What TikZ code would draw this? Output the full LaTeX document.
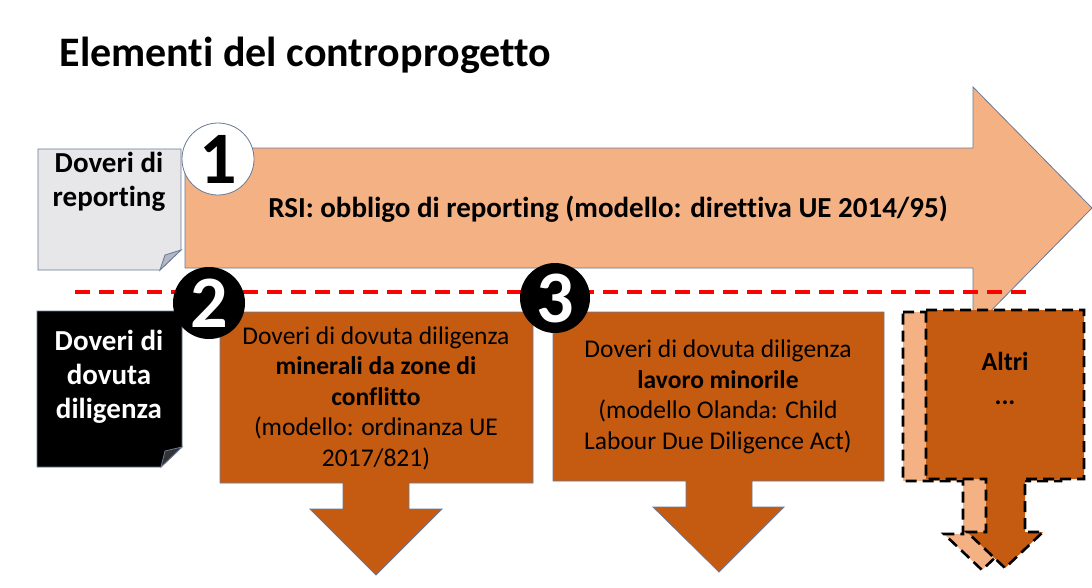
\documentclass[tikz,border=0pt]{standalone}
\usepackage{fontspec}
\setmainfont{Carlito}[Ligatures=NoCommon]
\definecolor{peach}{HTML}{F4B183}
\definecolor{rust}{HTML}{C55A11}
\definecolor{notegrey}{HTML}{E7E6E8}
\definecolor{foldgrey}{HTML}{B4B8C6}
\definecolor{edge}{HTML}{6A7A96}
\definecolor{dashred}{HTML}{FF0000}
\tikzset{
  outl/.style={draw=edge, line width=0.8pt},
  numcirc/.style={circle, minimum size=72pt, inner sep=0pt, font=\bfseries\fontsize{74}{74}\selectfont},
  boxtext/.style={align=center, font=\fontsize{25.5}{30.5}\selectfont, text=black},
  notetext/.style={align=center, font=\bfseries\fontsize{29}{34}\selectfont},
  altridash/.style={draw=black, line width=2.6pt, dash pattern=on 11pt off 6pt},
}
\begin{document}
\begin{tikzpicture}[x=1pt,y=-1pt]
\useasboundingbox (0,0) rectangle (1092,587);
% title
\node[anchor=west, font=\bfseries\fontsize{42}{42}\selectfont] (title) at (56,55) {Elementi del controprogetto};
% big arrow
\filldraw[fill=peach, outl] (185,148) -- (973,148) -- (973,87) -- (1092,208) -- (973,329) -- (973,268) -- (185,268) -- cycle;
\node[font=\bfseries\fontsize{29}{29}\selectfont] (rsi) at (608,209) {RSI: obbligo di reporting (modello: direttiva UE 2014/95)};
% grey note
\filldraw[fill=notegrey, outl] (38,149) -- (181,149) -- (181,250) -- (160,270) -- (38,270) -- cycle;
\filldraw[fill=foldgrey, outl] (181,250) -- (165,255) -- (160,270) -- cycle;
\node[notetext] (rep) at (109,182) {Doveri di\\reporting};
% black note
\filldraw[fill=black, outl] (37,311) -- (182,311) -- (182,447) -- (161,467) -- (37,467) -- cycle;
\filldraw[fill=black!80, outl] (182,447) -- (165,451) -- (161,467) -- cycle;
\node[notetext, text=white] (dil) at (109,377) {Doveri di\\dovuta\\diligenza};
% red dashed separator
\coordinate (sepL) at (75,292);
\coordinate (sepR) at (1030,292);
% box 2
\filldraw[fill=rust, outl] (220,312) -- (533,312) -- (533,483) -- (409,483) -- (409,509) -- (442,509) -- (376,575) -- (310,509) -- (343,509) -- (343,483) -- (220,483) -- cycle;
\node[boxtext] (b2) at (376,398) {Doveri di dovuta diligenza\\\textbf{minerali da zone di}\\\textbf{conflitto}\\(modello: ordinanza UE\\2017/821)};
% box 3
\filldraw[fill=rust, outl] (553,312) -- (884,312) -- (884,481) -- (752,481) -- (752,507) -- (784,507) -- (719,572) -- (653,507) -- (686,507) -- (686,481) -- (553,481) -- cycle;
\node[boxtext] (b3) at (718,397) {Doveri di dovuta diligenza\\\textbf{lavoro minorile}\\(modello Olanda: Child\\Labour Due Diligence Act)};
% Altri: light shadow shape and dark shape
\fill[peach] (903,312) -- (1061,312) -- (1061,481) -- (1002,481) -- (1002,534) -- (1020,534) -- (982,570) -- (944,534) -- (963,534) -- (963,481) -- (903,481) -- cycle;
\draw[altridash] (903,312) -- (1061,312) -- (1061,481) -- (1002,481) -- (1002,534) -- (1020,534) -- (982,570) -- (944,534) -- (963,534) -- (963,481) -- (903,481) -- cycle;
\fill[rust] (926,310) -- (1084,310) -- (1084,479) -- (1025,479) -- (1025,532) -- (1043,532) -- (1005,568) -- (967,532) -- (986,532) -- (986,479) -- (926,479) -- cycle;
\draw[altridash] (926,310) -- (1084,310) -- (1084,479) -- (1025,479) -- (1025,532) -- (1043,532) -- (1005,568) -- (967,532) -- (986,532) -- (986,479) -- (926,479) -- cycle;
\node[boxtext, font=\bfseries\fontsize{26}{34}\selectfont] (altri) at (1005,378) {Altri\\...};
% separator drawn over the arrow head
\draw[dashred, line width=4.5pt, dash pattern=on 15pt off 9pt] (sepL) -- (sepR);
% number circles
\node[numcirc, fill=white, draw=edge, line width=0.8pt] (c1) at (218,159) {1};
\node[numcirc, fill=black, text=white] (c2) at (209,303) {2};
\node[numcirc, fill=black, text=white, minimum size=70pt] (c3) at (555,298) {3};
\end{tikzpicture}
\end{document}
